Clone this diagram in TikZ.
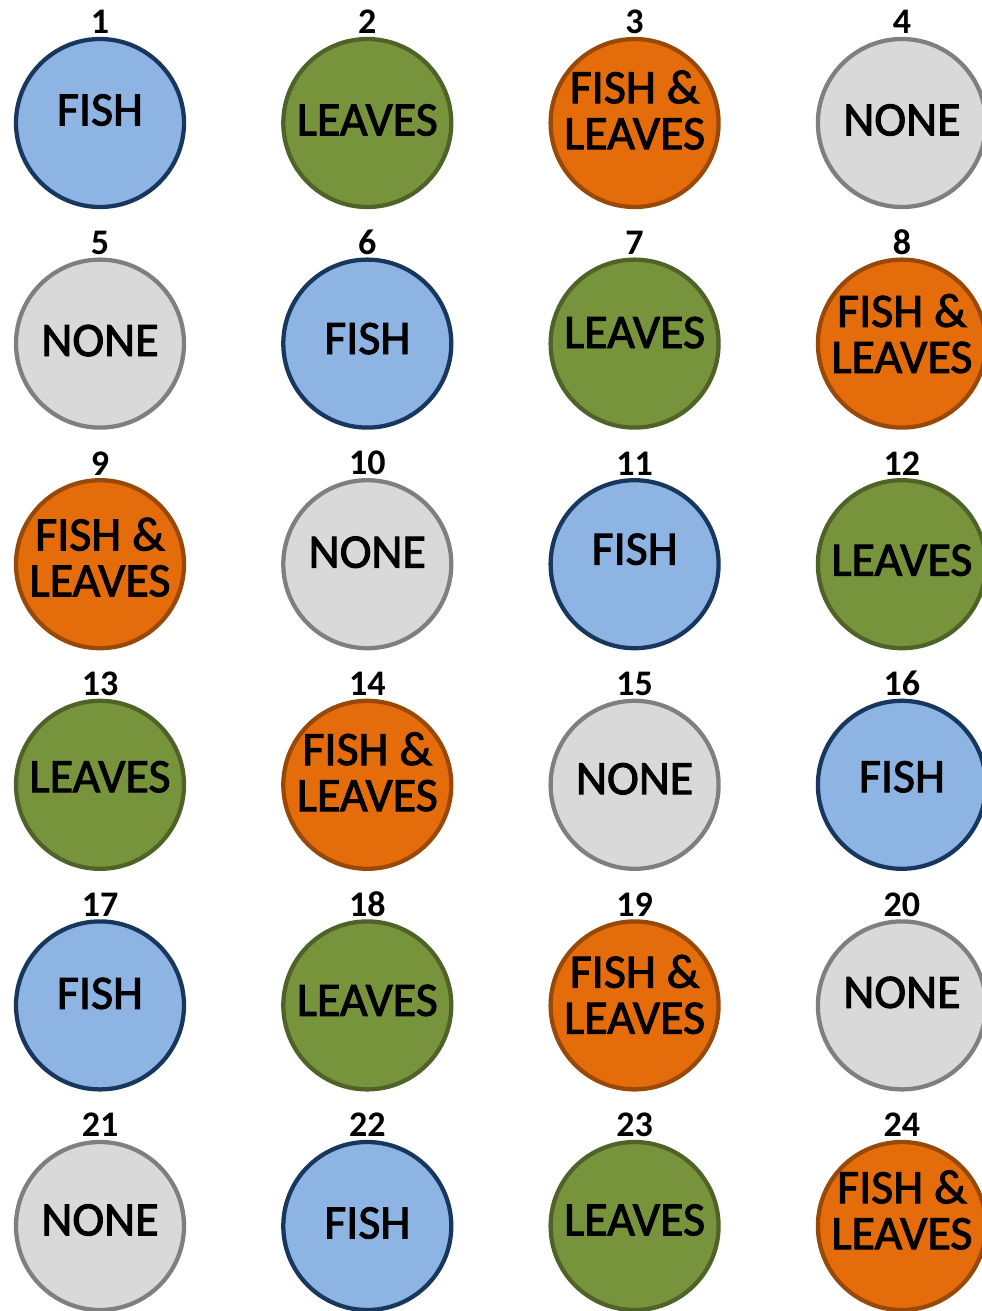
\documentclass[tikz,border=0pt]{standalone}
\usepackage{fontspec}
\setmainfont{Carlito}
\newfontfamily\pondfont[FakeBold=2]{Carlito}
\usetikzlibrary{positioning}

\definecolor{fishfill}{RGB}{142,180,227}
\definecolor{fishline}{RGB}{23,55,94}
\definecolor{leaffill}{RGB}{119,147,60}
\definecolor{leafline}{RGB}{79,98,40}
\definecolor{bothfill}{RGB}{228,108,10}
\definecolor{bothline}{RGB}{152,72,7}
\definecolor{emptyfill}{RGB}{217,217,217}
\definecolor{emptyline}{RGB}{127,127,127}

\tikzset{
  pond/.style={circle,line width=3.2pt,minimum size=126pt,inner sep=0pt},
  fishpond/.style={fill=fishfill,draw=fishline},
  leafpond/.style={fill=leaffill,draw=leafline},
  bothpond/.style={fill=bothfill,draw=bothline},
  emptypond/.style={fill=emptyfill,draw=emptyline},
  labeltext/.style={inner sep=0pt,align=center,font=\pondfont\fontsize{36}{34.5}\selectfont},
  numtext/.style={inner sep=0pt,outer sep=0pt,font=\fontsize{27}{27}\selectfont\bfseries}
}

\begin{document}
\begin{tikzpicture}[x=0.75pt,y=0.75pt,yscale=-1,xscale=1]
\useasboundingbox (0,0) rectangle (982,1311);

\foreach \n/\kind/\txt/\dy in {
  1/fishpond/{FISH}/-13, 2/leafpond/{LEAVES}/-3, 3/bothpond/{FISH \&\\LEAVES}/-13, 4/emptypond/{NONE}/-3,
  5/emptypond/{NONE}/-3, 6/fishpond/{FISH}/-5, 7/leafpond/{LEAVES}/-11, 8/bothpond/{FISH \&\\LEAVES}/-10,
  9/bothpond/{FISH \&\\LEAVES}/-7, 10/emptypond/{NONE}/-12, 11/fishpond/{FISH}/-15, 12/leafpond/{LEAVES}/-4,
  13/leafpond/{LEAVES}/-8, 14/bothpond/{FISH \&\\LEAVES}/-13, 15/emptypond/{NONE}/-6, 16/fishpond/{FISH}/-8,
  17/fishpond/{FISH}/-12, 18/leafpond/{LEAVES}/-5, 19/bothpond/{FISH \&\\LEAVES}/-11, 20/emptypond/{NONE}/-13,
  21/emptypond/{NONE}/-6, 22/fishpond/{FISH}/-3, 23/leafpond/{LEAVES}/-6, 24/bothpond/{FISH \&\\LEAVES}/-16}{
  \pgfmathtruncatemacro{\col}{mod(\n-1,4)}
  \pgfmathtruncatemacro{\row}{div(\n-1,4)}
  \pgfmathsetmacro{\cx}{100+267.3*\col}
  \pgfmathsetmacro{\cy}{123+220.6*\row}
  %Shape: Circle
  \node [pond,\kind] (c\n) at (\cx,\cy) {};
  % Text Node
  \node [labeltext] (t\n) at (\cx,\cy+\dy) {\txt};
  % Text Node
  \node [numtext,above=2.25pt of c\n] (n\n) {\n};
}

\end{tikzpicture}
\end{document}
